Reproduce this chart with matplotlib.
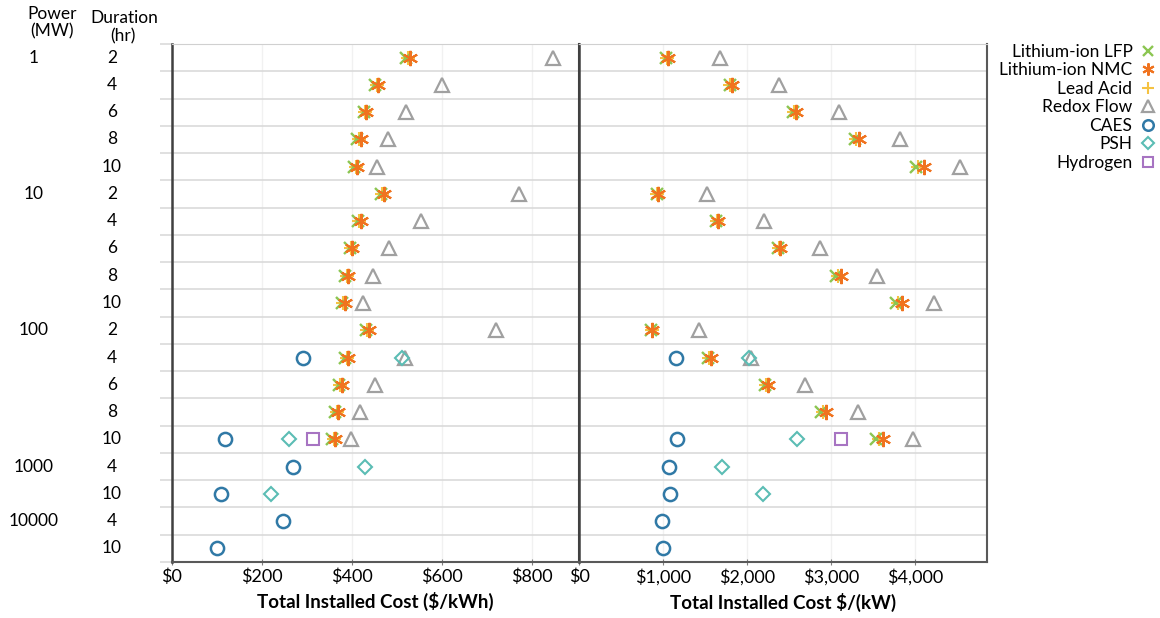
import matplotlib
matplotlib.use('Agg')
import matplotlib.pyplot as plt
from matplotlib.ticker import FuncFormatter, MultipleLocator
from matplotlib.transforms import blended_transform_factory
import numpy as np

plt.rcParams['font.family'] = ['Lato', 'DejaVu Sans']

nan = np.nan

# rows: power (MW) / duration (hr)
power_lbl = ['1', '', '', '', '', '10', '', '', '', '', '100', '', '', '', '', '1000', '', '10000', '']
dur_lbl = ['2', '4', '6', '8', '10', '2', '4', '6', '8', '10', '2', '4', '6', '8', '10', '4', '10', '4', '10']

# $/kWh
lfp_kwh = [521, 452, 426, 412, 404, 464, 413, 395, 385, 377, 431, 385, 371, 362, 355, nan, nan, nan, nan]
nmc_kwh = [528, 458, 432, 419, 412, 470, 419, 401, 392, 384, 437, 392, 377, 369, 362, nan, nan, nan, nan]
pb_kwh = [524, 455, 429, 416, 408, 467, 416, 398, 389, 381, 434, 389, 374, 366, 359, nan, nan, nan, nan]
rfb_kwh = [847, 601, 520, 481, 455, 772, 554, 482, 447, 425, 719, 517, 450, 418, 398, nan, nan, nan, nan]
caes_kwh = [nan] * 11 + [291, nan, nan, 118, 269, 108, 247, 99]
psh_kwh = [nan] * 11 + [511, nan, nan, 260, 429, 220, nan, nan]
h2_kwh = [nan] * 14 + [314, nan, nan, nan, nan]

# $/kW
lfp_kw = [1035, 1790, 2540, 3280, 4010, 920, 1632, 2360, 3055, 3770, 855, 1532, 2205, 2880, 3530, nan, nan, nan, nan]
nmc_kw = [1050, 1815, 2575, 3330, 4100, 935, 1655, 2395, 3110, 3840, 870, 1565, 2245, 2940, 3620, nan, nan, nan, nan]
pb_kw = [1040, 1799, 2552, 3298, 4032, 925, 1640, 2373, 3075, 3796, 861, 1544, 2220, 2903, 3566, nan, nan, nan, nan]
rfb_kw = [1672, 2380, 3094, 3815, 4530, 1518, 2195, 2871, 3547, 4224, 1423, 2048, 2686, 3318, 3968, nan, nan, nan, nan]
caes_kw = [nan] * 11 + [1148, nan, nan, 1161, 1065, 1078, 983, 995]
psh_kw = [nan] * 11 + [2022, nan, nan, 2597, 1697, 2188, nan, nan]
h2_kw = [nan] * 14 + [3113, nan, nan, nan, nan]

rows = np.arange(len(dur_lbl))

W, H = 1160, 618
fig = plt.figure(figsize=(W / 100, H / 100), dpi=100)
top, bot = 44, 562
ax1 = fig.add_axes([172 / W, 1 - bot / H, (579.3 - 172) / W, (bot - top) / H])
ax2 = fig.add_axes([579.3 / W, 1 - bot / H, (986.7 - 579.3) / W, (bot - top) / H])

styles = [
    ('Lead Acid', dict(marker='+', color='#f5c242', ms=10, mew=1.5, ls='none')),
    ('Lithium-ion LFP', dict(marker='x', color='#8cc652', ms=9, mew=1.7, ls='none')),
    ('Lithium-ion NMC', dict(marker=(6, 2, 0), color='#f0731f', ms=11, mew=1.5, ls='none')),
    ('Redox Flow', dict(marker='^', mfc='none', mec='#a0a0a0', ms=10, mew=1.6, ls='none')),
    ('CAES', dict(marker='o', mfc='none', mec='#3079a6', ms=9.5, mew=1.8, ls='none')),
    ('PSH', dict(marker='D', mfc='none', mec='#5bbdb4', ms=7.5, mew=1.5, ls='none')),
    ('Hydrogen', dict(marker='s', mfc='none', mec='#a774c2', ms=9, mew=1.5, ls='none')),
]
left_data = [pb_kwh, lfp_kwh, nmc_kwh, rfb_kwh, caes_kwh, psh_kwh, h2_kwh]
right_data = [pb_kw, lfp_kw, nmc_kw, rfb_kw, caes_kw, psh_kw, h2_kw]

handles = {}
for (name, st), dl, dr in zip(styles, left_data, right_data):
    h, = ax1.plot(dl, rows, zorder=3, **st)
    ax2.plot(dr, rows, zorder=3, **st)
    handles[name] = h

ax1.set_xlim(0, 905)
ax2.set_xlim(0, 4850)
ax1.xaxis.set_major_locator(MultipleLocator(200))
ax2.xaxis.set_major_locator(MultipleLocator(1000))
ax1.xaxis.set_major_formatter(FuncFormatter(lambda v, p: '${:,.0f}'.format(v)))
ax2.xaxis.set_major_formatter(FuncFormatter(lambda v, p: '${:,.0f}'.format(v)))

for ax in (ax1, ax2):
    ax.set_ylim(len(rows) - 0.5, -0.5)
    ax.set_yticks(np.arange(len(rows) + 1) - 0.5)
    ax.set_yticklabels([])
    ax.grid(True, axis='y', color='#dadada', lw=1.2)
    ax.grid(True, axis='x', color='#f1f1f1', lw=1)
    ax.set_axisbelow(True)
    ax.tick_params(axis='x', labelsize=13, length=4, direction='inout', color='#7f7f7f', pad=3)
    ax.tick_params(axis='y', length=0)
    ax.spines['top'].set_color('#d0d0d0')
    ax.spines['bottom'].set_color('#595959')
    ax.spines['bottom'].set_linewidth(1.5)
    ax.spines['left'].set_color('#404040')
    ax.spines['left'].set_linewidth(1.8)
    ax.spines['right'].set_color('#404040')
    ax.spines['right'].set_linewidth(1.5)
ax1.tick_params(axis='y', length=9, color='#dadada', width=1.2)
ax2.spines['right'].set_color('#595959')

ax1.set_xlabel('Total Installed Cost ($/kWh)', fontsize=13.5, fontweight='bold', labelpad=5)
ax2.set_xlabel('Total Installed Cost $/(kW)', fontsize=13.5, fontweight='bold', labelpad=5)

tr = blended_transform_factory(fig.transFigure, ax1.transData)
for r, p, d in zip(rows, power_lbl, dur_lbl):
    fig.text(34 / W, r, p, transform=tr, ha='center', va='center', fontsize=12.5)
    fig.text(112 / W, r, d, transform=tr, ha='center', va='center', fontsize=12.5)

fig.text(52 / W, 1 - 14 / H, 'Power', ha='center', va='center', fontsize=12.5)
fig.text(52 / W, 1 - 31 / H, '(MW)', ha='center', va='center', fontsize=12.5)
fig.text(124 / W, 1 - 18 / H, 'Duration', ha='center', va='center', fontsize=12.5)
fig.text(123 / W, 1 - 36 / H, '(hr)', ha='center', va='center', fontsize=12.5)

order = ['Lithium-ion LFP', 'Lithium-ion NMC', 'Lead Acid', 'Redox Flow', 'CAES', 'PSH', 'Hydrogen']
fig.legend([handles[n] for n in order], order, loc='upper right',
           bbox_to_anchor=(1155 / W, 1 - 44 / H), frameon=False, markerfirst=False,
           fontsize=12.5, handlelength=0.8, handletextpad=0.5, labelspacing=0.14,
           borderpad=0, borderaxespad=0, markerscale=0.8)

fig.savefig('out.png', dpi=100)
